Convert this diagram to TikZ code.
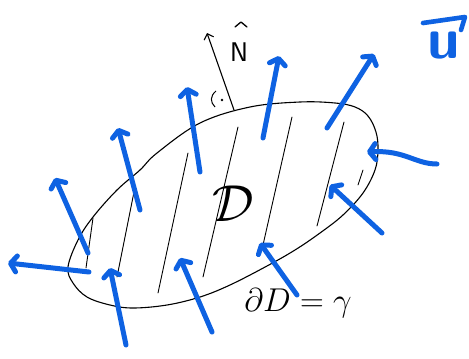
\RequirePackage{fix-cm}
\documentclass[tikz,border=0pt]{standalone}
\usetikzlibrary{arrows.meta}
\definecolor{pen}{RGB}{14,98,226}
\begin{document}
\begin{tikzpicture}[x=1pt,y=-1pt,
  field/.style={draw=pen, line width=5pt, line cap=round, line join=round,
    -{Straight Barb[length=6pt,width=16pt,round]}},
  hatch/.style={line width=0.9pt, line cap=round},
  rim/.style={line width=1.1pt},
  lab/.style={inner sep=0pt, text=black}]
\useasboundingbox (0,0) rectangle (469,359);

% boundary gamma
\draw[rim] plot[smooth cycle, tension=0.6] coordinates {(68,267) (73,283) (87,297) (110,305) (133,308) (167,305) (200,297) (230,285) (267,266) (295,250) (320,233) (343,215) (363,193) (375,170) (378,150) (376,132) (368,116) (355,107) (335,103) (300,102) (250,107) (200,123) (157,153) (140,170) (117,190) (93,217) (78,240)};

% hatching
\coordinate (h1a) at (93,218);  \coordinate (h1b) at (86,268);
\coordinate (h2a) at (135,187); \coordinate (h2b) at (117,277);
\coordinate (h3a) at (188,153); \coordinate (h3b) at (158,293);
\coordinate (h4a) at (238,127); \coordinate (h4b) at (203,277);
\coordinate (h5a) at (292,117); \coordinate (h5b) at (263,245);
\coordinate (h6a) at (344,122); \coordinate (h6b) at (317,226);
\coordinate (h7a) at (363,170); \coordinate (h7b) at (358,185);
\foreach \i in {1,...,7} \draw[hatch] (h\i a) -- (h\i b);

% normal vector
\coordinate (nt) at (234,110);
\coordinate (nh) at (207,33);
\draw[line width=1.1pt, -{Straight Barb[length=5pt,width=10pt]}] (nt) -- (nh);
\node[lab, font=\fontsize{27}{27}\selectfont\sffamily] (N) at (239,52) {N};
\coordinate (k1) at (235,27); \coordinate (k2) at (241,22); \coordinate (k3) at (247,27);
\draw[line width=1.3pt, line cap=round, line join=round] (k1) -- (k2) -- (k3);
\coordinate (ra) at (216,91); \coordinate (rb) at (215,107);
\draw[line width=1pt] (ra) .. controls (210,96) and (210,102) .. (rb);
\fill (222,100) circle (1.3pt);

% labels
\node[lab, font=\fontsize{52}{52}\selectfont] (D) at (233,204) {$\mathcal{D}$};
\node[lab, font=\fontsize{33}{33}\selectfont] (bd) at (298,303) {$\partial D = \gamma$};

% vector field u
\coordinate (a1t) at (88,253);  \coordinate (a1h) at (55,178);
\coordinate (a2t) at (89,272);  \coordinate (a2h) at (8,263);
\coordinate (a3t) at (140,210); \coordinate (a3h) at (118,128);
\coordinate (a4t) at (200,172); \coordinate (a4h) at (187,87);
\coordinate (a5t) at (263,138); \coordinate (a5h) at (279,56);
\coordinate (a6t) at (327,128); \coordinate (a6h) at (374,54);
\coordinate (a8t) at (382,233); \coordinate (a8h) at (330,185);
\coordinate (a9t) at (297,295); \coordinate (a9h) at (260,243);
\coordinate (a10t) at (212,332); \coordinate (a10h) at (180,258);
\coordinate (a11t) at (126,345); \coordinate (a11h) at (110,268);
\foreach \i in {1,2,3,4,5,6,8,9,10,11} \draw[field] (a\i t) -- (a\i h);
\coordinate (a7t) at (437,164); \coordinate (a7h) at (367,152);
\draw[field] (a7t) .. controls (415,164) and (405,150) .. (a7h);

% u label
\node[lab, text=pen, font=\fontsize{58}{58}\selectfont\sffamily\bfseries] (u) at (444,46) {u};
\coordinate (v1) at (423,23); \coordinate (v2) at (465,17); \coordinate (v3) at (461,30);
\draw[draw=pen, line width=4.6pt, line cap=round, line join=round] (v1) -- (v2) -- (v3);
\end{tikzpicture}
\end{document}
